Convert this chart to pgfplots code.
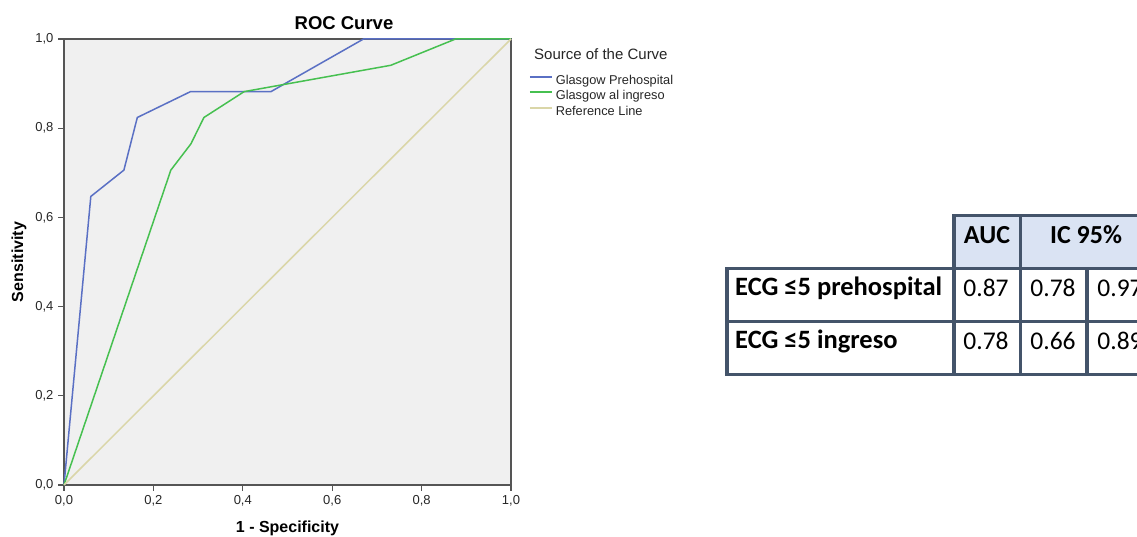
\documentclass[border=0pt]{standalone}
\usepackage{fontspec}
\setmainfont{Liberation Sans}
\newfontfamily\calibri{Carlito}
\usepackage{pgfplots}
\pgfplotsset{compat=1.18}
\definecolor{bgc}{RGB}{240,240,240}
\definecolor{axc}{RGB}{85,85,85}
\definecolor{cblue}{RGB}{90,112,196}
\definecolor{cgreen}{RGB}{70,192,80}
\definecolor{cref}{RGB}{218,214,168}
\definecolor{tblb}{RGB}{68,84,106}
\definecolor{tblf}{RGB}{218,227,243}
\newcommand{\Y}[1]{537-#1}
\begin{document}
\begin{tikzpicture}[x=1pt,y=1pt]
\useasboundingbox (0,0) rectangle (1137,537);
\begin{scope}
\clip (0,0) rectangle (1137,537);
% table
\fill[tblf] (954,\Y{215.5}) rectangle (1154,\Y{268.5});
\begin{scope}[draw=tblb, line width=3.3pt, line cap=rect]
\draw (954,\Y{215.5}) -- (1154,\Y{215.5});
\draw (727,\Y{268.5}) -- (1154,\Y{268.5});
\draw (727,\Y{321.5}) -- (1154,\Y{321.5});
\draw (727,\Y{374.5}) -- (1154,\Y{374.5});
\draw (727,\Y{268.5}) -- (727,\Y{374.5});
\draw (954,\Y{215.5}) -- (954,\Y{374.5});
\draw (1020.5,\Y{215.5}) -- (1020.5,\Y{374.5});
\draw (1087,\Y{268.5}) -- (1087,\Y{374.5});
\draw (1154,\Y{215.5}) -- (1154,\Y{374.5});
\end{scope}
\begin{scope}[every node/.style={inner sep=0pt, font=\calibri\fontsize{25.5}{30}\selectfont}]
\node[anchor=base, font=\calibri\bfseries\fontsize{26}{30}\selectfont] at (987,\Y{244}) {AUC};
\node[anchor=base, font=\calibri\bfseries\fontsize{26}{30}\selectfont] at (1086,\Y{244}) {IC 95\%};
\node[anchor=base west, font=\calibri\bfseries\fontsize{26.5}{30}\selectfont] at (735,\Y{296}) {ECG ≤5 prehospital};
\node[anchor=base west, font=\calibri\bfseries\fontsize{26.5}{30}\selectfont] at (735,\Y{349}) {ECG ≤5 ingreso};
\node[anchor=base] at (986,\Y{297}) {0.87};
\node[anchor=base] at (1053,\Y{297}) {0.78};
\node[anchor=base] at (1120,\Y{297}) {0.97};
\node[anchor=base] at (986,\Y{350}) {0.78};
\node[anchor=base] at (1053,\Y{350}) {0.66};
\node[anchor=base] at (1120,\Y{350}) {0.89};
\end{scope}
\end{scope}
% title and legend title
\node[anchor=base, inner sep=0pt, font=\bfseries\fontsize{18.5}{22}\selectfont] at (344,\Y{30}) {ROC Curve};
\node[anchor=base west, inner sep=0pt, font=\fontsize{15}{18}\selectfont, text=black!85] at (534,\Y{60}) {Source of the Curve};
\begin{axis}[
  at={(64pt,52pt)}, anchor=south west,
  scale only axis, width=447pt, height=446pt,
  xmin=0, xmax=1, ymin=0, ymax=1,
  clip=false,
  axis background/.style={fill=bgc},
  axis line style={draw=axc, line width=1.6pt},
  tick style={draw=axc, line width=1.3pt},
  major tick length=6pt,
  tick align=outside, tick pos=left,
  xtick={0,0.2,0.4,0.6,0.8,1},
  ytick={0,0.2,0.4,0.6,0.8,1},
  ticklabel style={font=\fontsize{13}{15}\selectfont, text=black!85},
  /pgf/number format/use comma,
  /pgf/number format/fixed,
  /pgf/number format/fixed zerofill,
  /pgf/number format/precision=1,
  /pgf/number format/assume math mode=true,
  xticklabel style={yshift=-1pt},
  yticklabel style={xshift=-1pt},
  xlabel={1 - Specificity},
  ylabel={Sensitivity},
  xlabel style={font=\bfseries\fontsize{16}{19}\selectfont, at={(axis description cs:0.5,-0.1076)}, anchor=base, inner sep=0pt},
  ylabel style={font=\bfseries\fontsize{16}{19}\selectfont, at={(axis description cs:-0.1007,0.5)}, anchor=center, inner sep=0pt},
  legend cell align=left,
  legend image code/.code={\draw[#1, line width=1.8pt] (0pt,4.5pt) -- (22pt,4.5pt);},
  legend style={draw=none, fill=none, inner sep=0pt, outer sep=0pt,
    at={(axis description cs:1.0403,0.9195)}, anchor=north west,
    font=\fontsize{12.8}{15}\selectfont, text=black!85,
    row sep=3pt, column sep=3pt,
    nodes={inner sep=0pt, text height=9.5pt, text depth=3pt}},
]
\addplot[cblue, line width=1.5pt] coordinates {
  (0,0) (0.060,0.647) (0.134,0.706) (0.164,0.824) (0.283,0.882) (0.463,0.882) (0.670,1) (1,1)};
\addlegendentry{Glasgow Prehospital}
\addplot[cgreen, line width=1.5pt] coordinates {
  (0,0) (0.239,0.706) (0.284,0.765) (0.313,0.824) (0.403,0.882) (0.731,0.941) (0.876,1) (1,1)};
\addlegendentry{Glasgow al ingreso}
\addplot[cref, line width=1.5pt] coordinates {(0,0) (1,1)};
\addlegendentry{Reference Line}
\end{axis}
\end{tikzpicture}
\end{document}
